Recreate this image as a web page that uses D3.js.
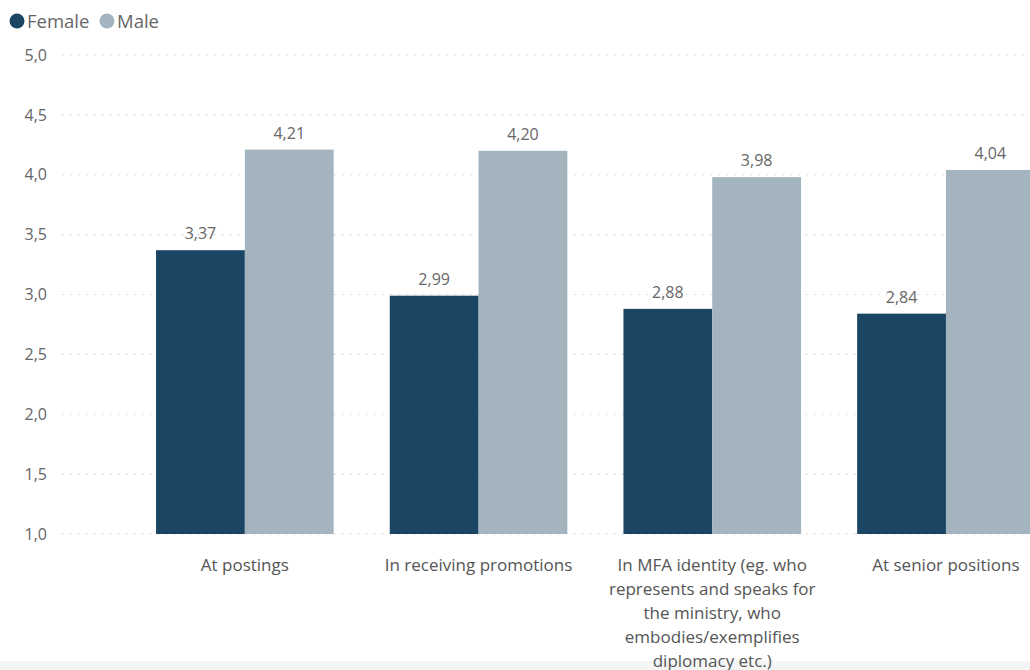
<!DOCTYPE html>
<html><head><meta charset="utf-8">
<script src="https://cdn.jsdelivr.net/npm/d3@7"></script>
<style>
body{margin:0;background:#fff;}
text{font-family:"Segoe UI","Open Sans","Noto Sans",sans-serif;}
</style></head>
<body><svg id="c" width="1030" height="670"></svg>
<script>
const categories = ["At postings","In receiving promotions","In MFA identity (eg. who represents and speaks for the ministry, who embodies/exemplifies diplomacy etc.)","At senior positions"];
const seriesNames = ["Female","Male"];
const female = [3.37, 2.99, 2.88, 2.84];
const male = [4.21, 4.20, 3.98, 4.04];
const yTicks = [1.0,1.5,2.0,2.5,3.0,3.5,4.0,4.5,5.0];
const colors = ["#1A4563","#A3B4BF"];

const svg = d3.select("#c");
const W = 1030, H = 670;
const fmt = v => d3.format(".2f")(v).replace(".", ",");
const fmt1 = v => d3.format(".1f")(v).replace(".", ",");

// subtle bottom band
svg.append("rect").attr("x",0).attr("y",661).attr("width",W).attr("height",9).attr("fill","#f4f5f5");

const y = d3.scaleLinear().domain([1,5]).range([534,55]);
const x = d3.scaleBand().domain(categories).range([128,1062.8]).paddingInner(0.24).paddingOuter(0.12);
const xs = d3.scaleBand().domain(seriesNames).range([0,x.bandwidth()]);

// grid
svg.append("g").selectAll("line").data(yTicks).join("line")
  .attr("x1",62).attr("x2",W).attr("y1",d=>y(d)).attr("y2",d=>y(d))
  .attr("stroke","#c4c4c4").attr("stroke-width",1.2).attr("stroke-dasharray","1.2,6.8");

// y axis labels
const yAxis = d3.axisLeft(y).tickValues(yTicks).tickFormat(fmt1).tickSize(0).tickPadding(0);
const ya = svg.append("g").attr("transform","translate(47,0)").call(yAxis);
ya.select(".domain").remove();
ya.selectAll("text").attr("fill","#666").style("font-size","16px").style("font-family",'"Segoe UI","Open Sans","Noto Sans",sans-serif');

// bars
const data = categories.map((c,i)=>({c, vals:[{s:"Female",v:female[i]},{s:"Male",v:male[i]}]}));
const g = svg.append("g").selectAll("g").data(data).join("g").attr("transform",d=>`translate(${x(d.c)},0)`);
g.selectAll("rect").data(d=>d.vals).join("rect")
  .attr("x",d=>xs(d.s)).attr("width",xs.bandwidth())
  .attr("y",d=>y(d.v)).attr("height",d=>y(1)-y(d.v))
  .attr("fill",(d,i)=>colors[i]);
g.selectAll("text.v").data(d=>d.vals).join("text").attr("class","v")
  .attr("x",d=>xs(d.s)+xs.bandwidth()/2).attr("y",d=>y(d.v)-11)
  .attr("text-anchor","middle").attr("fill","#666").style("font-size","16px")
  .text(d=>fmt(d.v));

// x axis labels with wrapping
const xAxis = d3.axisBottom(x).tickSize(0).tickPadding(0);
const xa = svg.append("g").attr("transform","translate(0,559)").call(xAxis);
xa.select(".domain").remove();
xa.selectAll("text").attr("fill","#555").style("font-size","17px").style("font-family",'"Segoe UI","Open Sans","Noto Sans",sans-serif').attr("dy","0.71em")
  .each(function(t){
    const el = d3.select(this);
    const words = t.split(/\s+/);
    el.text(null);
    let line = [];
    let tspan = el.append("tspan").attr("x",0).attr("dy","0.71em");
    const maxW = 218;
    for (const w of words){
      line.push(w);
      tspan.text(line.join(" "));
      if (tspan.node().getComputedTextLength() > maxW && line.length>1){
        line.pop(); tspan.text(line.join(" "));
        line=[w];
        tspan = el.append("tspan").attr("x",0).attr("dy","24px").text(w);
      }
    }
    el.attr("dy",null);
  });

// legend
const leg = svg.append("g");
const lx = [17,107];
seriesNames.forEach((s,i)=>{
  leg.append("circle").attr("cx",lx[i]).attr("cy",21).attr("r",7.5).attr("fill",colors[i]);
  leg.append("text").attr("x",lx[i]+10).attr("y",27.5).attr("fill","#666").style("font-size","18.5px").text(s);
});
</script></body></html>
